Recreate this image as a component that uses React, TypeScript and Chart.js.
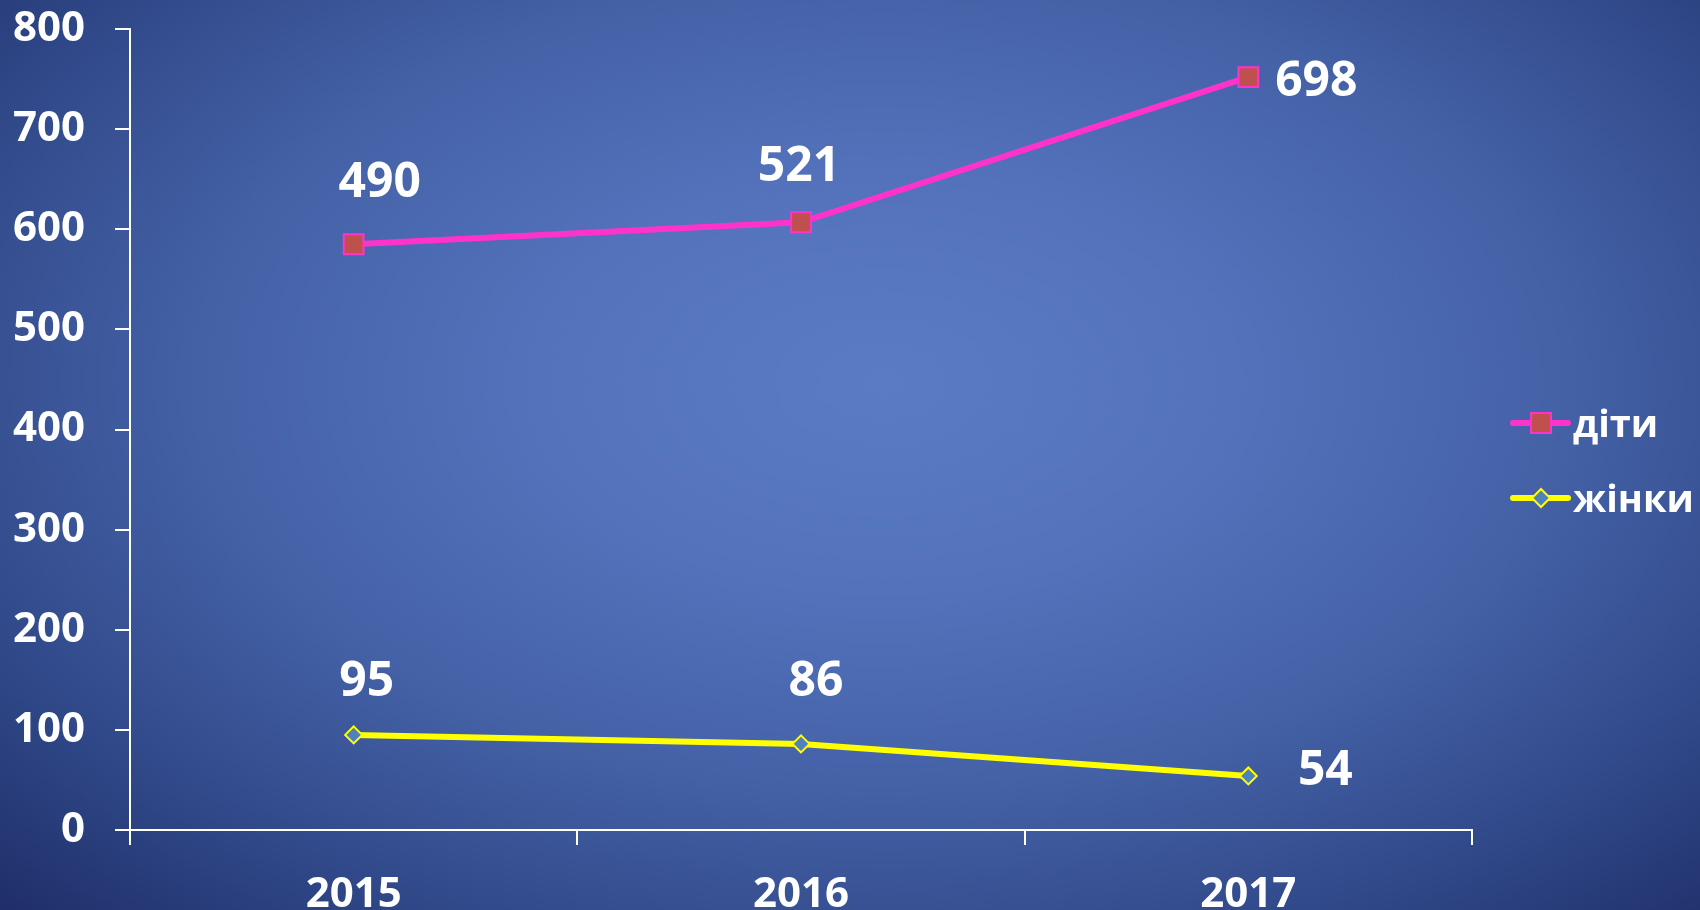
import React, { useEffect, useRef } from 'react';
import { Chart, registerables } from 'chart.js';

Chart.register(...registerables);

// ---- data ----
const categories = ['2015', '2016', '2017'];
const childrenLabel = 'діти';
const womenLabel = 'жінки';
const childrenValues = [490, 521, 698];
const womenValues = [95, 86, 54];
const yMin = 0;
const yMax = 800;
const yStep = 100;

// ---- styles ----
const FONT = "'Open Sans', 'DejaVu Sans', sans-serif";
const PINK = '#ff33cc';
const PINK_FILL = '#c0504d';
const YELLOW = '#ffff00';
const BLUE_FILL = '#4f81bd';
const WHITE = '#ffffff';

// label offsets (pixels) from each point: [dx, dy]
const childrenLabelOffsets = [[26, -61], [-2, -55], [68, 5]];
const womenLabelOffsets = [[13, -53], [15, -62], [77, -5]];

const dataLabelPlugin = {
  id: 'dataLabels',
  afterDatasetsDraw(chart: any) {
    const ctx = chart.ctx;
    ctx.save();
    ctx.font = `bold 48px ${FONT}`;
    ctx.fillStyle = WHITE;
    ctx.textAlign = 'center';
    ctx.textBaseline = 'middle';
    chart.data.datasets.forEach((ds: any, di: number) => {
      const meta = chart.getDatasetMeta(di);
      const offsets = ds.labelOffsets || [];
      meta.data.forEach((pt: any, i: number) => {
        const off = offsets[i] || [0, -50];
        ctx.fillText(String(ds.data[i]), pt.x + off[0], pt.y + off[1]);
      });
    });
    ctx.restore();
  },
};

const legendPlugin = {
  id: 'sideLegend',
  afterDraw(chart: any) {
    const ctx = chart.ctx;
    const area = chart.chartArea;
    const x0 = area.right + 41;
    const yCenter = (area.top + area.bottom) / 2 + 31;
    const gap = 75;
    const order = [1, 0];
    order.forEach((di, row) => {
      const ds = chart.data.datasets[di];
      const cy = yCenter - gap / 2 + row * gap;
      ctx.save();
      ctx.strokeStyle = ds.borderColor;
      ctx.lineWidth = 6;
      ctx.lineCap = 'round';
      ctx.beginPath();
      ctx.moveTo(x0, cy);
      ctx.lineTo(x0 + 55, cy);
      ctx.stroke();
      const mx = x0 + 28;
      ctx.fillStyle = ds.pointBackgroundColor;
      ctx.strokeStyle = ds.pointBorderColor;
      ctx.lineWidth = 2;
      ctx.lineCap = 'butt';
      ctx.beginPath();
      if (ds.pointStyle === 'rect') {
        const h = 10;
        ctx.rect(mx - h, cy - h, 2 * h, 2 * h);
      } else {
        const r = 9;
        ctx.moveTo(mx - r, cy);
        ctx.lineTo(mx, cy - r);
        ctx.lineTo(mx + r, cy);
        ctx.lineTo(mx, cy + r);
        ctx.closePath();
      }
      ctx.fill();
      ctx.stroke();
      ctx.font = `bold 38px ${FONT}`;
      ctx.fillStyle = WHITE;
      ctx.textAlign = 'left';
      ctx.textBaseline = 'middle';
      ctx.fillText(ds.label, x0 + 60, cy + 3);
      ctx.restore();
    });
  },
};

export default function App() {
  const canvasRef = useRef<HTMLCanvasElement | null>(null);

  useEffect(() => {
    const canvas = canvasRef.current;
    if (!canvas) return;
    const chart = new Chart(canvas, {
      type: 'line',
      data: {
        labels: categories,
        datasets: [
          {
            label: womenLabel,
            data: womenValues,
            borderColor: YELLOW,
            borderWidth: 6,
            pointStyle: 'rectRot',
            pointRadius: 8.5,
            pointBackgroundColor: BLUE_FILL,
            pointBorderColor: YELLOW,
            pointBorderWidth: 2,
            tension: 0,
            fill: false,
            labelOffsets: womenLabelOffsets,
          } as any,
          {
            label: childrenLabel,
            data: childrenValues,
            borderColor: PINK,
            borderWidth: 6,
            pointStyle: 'rect',
            pointRadius: 14,
            pointBackgroundColor: PINK_FILL,
            pointBorderColor: PINK,
            pointBorderWidth: 2,
            tension: 0,
            fill: false,
            labelOffsets: childrenLabelOffsets,
          } as any,
        ],
      },
      options: {
        responsive: false,
        animation: false,
        events: [],
        layout: { padding: { left: 12, top: 29, right: 228, bottom: 0 } },
        plugins: {
          legend: { display: false },
          tooltip: { enabled: false },
        },
        scales: {
          x: {
            offset: true,
            grid: {
              offset: true,
              drawOnChartArea: false,
              drawTicks: true,
              tickLength: 15,
              color: WHITE,
              lineWidth: 2,
            },
            border: { display: true, color: WHITE, width: 2 },
            ticks: {
              color: WHITE,
              padding: 25,
              font: { family: FONT, size: 42, weight: 'bold' },
            },
            afterFit: (scale: any) => {
              scale.height = 80;
              scale.paddingLeft = 0;
              scale.paddingRight = 0;
            },
          },
          y: {
            stacked: true,
            min: yMin,
            max: yMax,
            grid: {
              drawOnChartArea: false,
              drawTicks: true,
              tickLength: 15,
              color: WHITE,
              lineWidth: 2,
            },
            border: { display: true, color: WHITE, width: 2 },
            ticks: {
              stepSize: yStep,
              color: WHITE,
              padding: 30,
              font: { family: FONT, size: 42, weight: 'bold' },
            },
            afterFit: (scale: any) => {
              scale.width = 118;
              scale.paddingTop = 0;
              scale.paddingBottom = 0;
            },
          },
        },
      } as any,
      plugins: [dataLabelPlugin, legendPlugin],
    });
    return () => chart.destroy();
  }, []);

  return (
    <div
      style={{
        position: 'fixed',
        left: 0,
        top: 0,
        width: 1700,
        height: 910,
        overflow: 'hidden',
        background:
          'radial-gradient(ellipse farthest-corner at 52% 42%, #5b7cc5 0%, #5372bb 28%, #4461a6 55%, #2f4787 80%, #1f2e69 100%)',
      }}
    >
      <canvas ref={canvasRef} width={1700} height={910} style={{ display: 'block' }} />
    </div>
  );
}
